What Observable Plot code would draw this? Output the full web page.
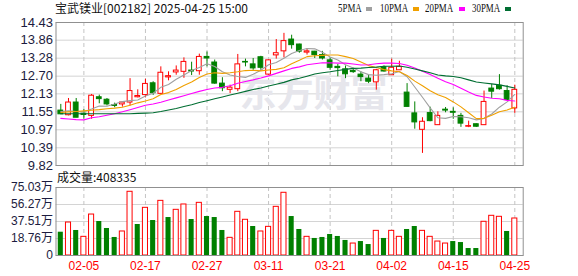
<!DOCTYPE html>
<html><head><meta charset="utf-8">
<script src="https://cdn.jsdelivr.net/npm/d3@7"></script>
<script src="https://cdn.jsdelivr.net/npm/@observablehq/plot@0.6"></script>
<style>
body{margin:0;background:#fff;}
#wrap{position:relative;width:578px;height:276px;overflow:hidden;background:#fff;}
.abs{position:absolute;white-space:nowrap;}
</style></head><body><div id="wrap"></div>
<script>
const title = "宝武镁业[002182] 2025-04-25 15:00";
const volLabel = "成交量:408335";
const watermark = "东方财富";
const dates = ["01-23","01-24","01-27","02-05","02-06","02-07","02-10","02-11","02-12","02-13",
"02-14","02-17","02-18","02-19","02-20","02-21","02-24","02-25","02-26","02-27",
"02-28","03-03","03-04","03-05","03-06","03-07","03-10","03-11","03-12","03-13",
"03-14","03-17","03-18","03-19","03-20","03-21","03-24","03-25","03-26","03-27",
"03-28","03-31","04-01","04-02","04-03","04-07","04-08","04-09","04-10","04-11",
"04-14","04-15","04-16","04-17","04-18","04-21","04-22","04-23","04-24","04-25"];
const open = [11.59,11.44,11.85,11.49,11.42,12.02,11.94,11.77,11.79,11.85,
12.02,12.09,12.47,12.13,12.66,12.82,12.84,12.88,12.86,13.32,
13.14,12.46,12.26,12.28,13.16,13.08,13.31,12.75,13.37,13.50,
13.88,13.72,13.46,13.49,13.38,13.21,13.00,12.92,12.87,12.75,
12.62,12.50,12.99,12.73,12.89,12.17,11.50,10.97,11.51,11.12,
11.62,11.55,11.42,11.07,11.15,11.12,12.30,12.39,12.22,11.66];
const high = [11.79,11.98,11.98,11.62,12.11,12.09,11.98,11.83,11.86,12.62,
12.26,12.60,12.52,13.00,12.84,13.03,13.29,13.15,13.41,13.48,
13.22,12.65,12.41,13.40,13.25,13.27,13.34,13.22,13.88,14.08,
14.02,13.73,13.59,13.50,13.50,13.29,13.08,13.03,12.95,12.84,
12.73,12.92,13.03,13.25,13.18,12.46,11.87,11.36,11.70,11.55,
11.69,11.68,11.50,11.25,11.16,12.22,12.43,12.75,12.39,12.41];
const low = [11.46,11.42,11.36,11.31,11.31,11.81,11.74,11.68,11.70,11.74,
12.00,12.00,12.08,12.12,12.55,12.73,12.63,12.72,12.73,13.00,
12.44,12.20,12.14,12.20,13.00,12.89,12.89,12.73,13.25,13.29,
13.57,13.44,13.38,13.27,13.22,12.89,12.68,12.62,12.79,12.52,
12.46,12.25,12.83,12.72,12.89,11.70,10.99,10.21,11.23,11.11,
11.52,11.31,11.05,11.04,11.05,11.11,11.98,12.25,11.93,11.50];
const close = [11.47,11.85,11.36,11.45,12.07,11.96,11.79,11.74,11.85,12.22,
12.06,12.45,12.15,12.81,12.70,12.88,13.16,12.85,13.32,13.27,
12.46,12.31,12.33,13.08,13.14,12.95,12.97,13.21,13.44,13.83,
13.70,13.49,13.50,13.38,13.27,12.97,12.96,12.76,12.83,12.67,
12.52,12.89,12.85,12.97,13.00,11.71,11.21,11.23,11.25,11.42,
11.59,11.52,11.17,11.09,11.07,11.87,12.20,12.28,11.93,12.26];
// volume in 万
const volume = [25.7,36.4,27.6,20.6,45.2,37.5,29.8,19.9,26.5,70.3,
34.2,52.6,38.6,60.3,41.9,50.4,56.3,39.7,58.1,43.0,
41.9,27.6,19.5,48.2,39.4,32.0,26.5,31.6,53.7,69.2,
43.0,28.7,20.6,18.8,19.9,23.2,21.0,16.6,13.2,15.4,
12.1,27.2,18.8,27.2,20.6,28.7,32.0,27.2,20.6,15.4,
13.2,15.4,14.3,7.7,7.7,37.2,43.8,42.7,26.5,40.83];
const ma5 = [11.56,11.58,11.56,11.55,11.64,11.74,11.73,11.80,11.88,11.91,
11.93,12.06,12.15,12.34,12.43,12.60,12.74,12.88,12.98,13.10,
13.01,12.84,12.74,12.69,12.66,12.76,12.89,13.07,13.14,13.28,
13.43,13.53,13.59,13.58,13.47,13.32,13.22,13.07,12.96,12.84,
12.75,12.73,12.75,12.78,12.85,12.68,12.35,12.02,11.68,11.36,
11.34,11.40,11.39,11.36,11.29,11.34,11.48,11.70,11.87,12.11];
const ma10 = [11.53,11.55,11.56,11.58,11.60,11.62,11.65,11.67,11.70,11.76,
11.84,11.90,11.97,12.11,12.17,12.27,12.40,12.51,12.66,12.77,
12.81,12.79,12.81,12.84,12.88,12.89,12.87,12.90,12.92,12.97,
13.10,13.21,13.33,13.36,13.37,13.38,13.38,13.33,13.27,13.16,
13.04,12.98,12.91,12.87,12.84,12.72,12.54,12.39,12.23,12.10,
12.01,11.87,11.71,11.52,11.33,11.34,11.44,11.55,11.61,11.70];
const ma20 = [11.34,11.32,11.30,11.29,11.36,11.39,11.44,11.49,11.55,11.62,
11.69,11.76,11.80,11.86,11.93,12.00,12.07,12.14,12.21,12.27,
12.32,12.34,12.39,12.47,12.53,12.58,12.64,12.71,12.79,12.87,
12.95,13.00,13.07,13.10,13.13,13.13,13.12,13.12,13.09,13.06,
13.07,13.10,13.12,13.12,13.11,13.05,12.96,12.86,12.75,12.63,
12.52,12.43,12.31,12.19,12.08,12.03,11.99,11.97,11.92,11.90];
const ma30 = [11.49,11.49,11.49,11.49,11.49,11.49,11.49,11.49,11.49,11.49,
11.50,11.51,11.52,11.56,11.61,11.66,11.72,11.78,11.85,11.91,
11.97,12.03,12.09,12.15,12.21,12.27,12.32,12.38,12.44,12.50,
12.58,12.63,12.70,12.77,12.81,12.84,12.88,12.92,12.95,12.96,
12.98,12.99,13.02,13.02,13.03,12.99,12.93,12.87,12.81,12.74,
12.71,12.69,12.65,12.58,12.51,12.48,12.45,12.42,12.37,12.32];
const priceTicks = [14.43,13.86,13.28,12.70,12.13,11.55,10.97,10.39,9.82];
const volTicks = [75.03,56.27,37.51,18.76,0];
const dateLabels = ["02-05","02-17","02-27","03-11","03-21","04-02","04-15","04-25"];
const maNames = ["5PMA","10PMA","20PMA","30PMA"];
const maColors = ["#a0a0a0","#f0a000","#ff00ff","#006e32"];

const RED = "#ff0000", GREEN = "#008000";
const rows = dates.map((d, i) => ({
  i, date: d, open: open[i], high: high[i], low: low[i], close: close[i], vol: volume[i],
  ma0: ma5[i], ma1: ma10[i], ma2: ma20[i], ma3: ma30[i],
  up: close[i] >= open[i],
  vup: i > 0 && close[i] >= close[i - 1]
}));
const labelIdx = dateLabels.map(l => dates.indexOf(l));
const half = 0.31;
const xScale = {domain: [-0.624, 60.09], axis: null};
const AX = "Liberation Sans, Arial, sans-serif";

const wrap = document.getElementById("wrap");

const price = Plot.plot({
  width: 578, height: 170,
  marginLeft: 55.5, marginRight: 55.3, marginTop: 22, marginBottom: 5,
  style: {fontFamily: AX, background: "transparent", overflow: "visible"},
  x: xScale,
  y: {domain: [9.82, 14.43], label: null, axis: null},
  marks: [
    Plot.gridY(priceTicks, {stroke: "#d4d4d4", strokeOpacity: 1}),
    Plot.ruleX(labelIdx, {stroke: "#c4c4c4", strokeOpacity: 1, strokeDasharray: "4,3"}),
    Plot.text([watermark], {frameAnchor: "middle", dx: 24, dy: 1, fontSize: 37, fontWeight: "bold",
      fill: "#e6e6ec", fontFamily: "Noto Sans CJK SC"}),
    Plot.axisY(priceTicks, {tickSize: 0, tickPadding: 3, tickFormat: d => d.toFixed(2),
      fontSize: 13, fill: "#1c1c40", label: null}),
    Plot.ruleX(rows.filter(d => d.up), {x: "i", y1: "low", y2: "high", stroke: RED}),
    Plot.ruleX(rows.filter(d => !d.up), {x: "i", y1: "low", y2: "high", stroke: GREEN}),
    Plot.rect(rows.filter(d => d.up), {x1: d => d.i - half, x2: d => d.i + half, y1: "open", y2: "close",
      fill: "white", stroke: RED}),
    Plot.rect(rows.filter(d => !d.up), {x1: d => d.i - half, x2: d => d.i + half, y1: "open", y2: "close",
      fill: GREEN, stroke: GREEN}),
    ...maColors.map((c, j) => Plot.line(rows, {x: "i", y: "ma" + j, stroke: c, strokeWidth: 1.1})),
    Plot.frame({stroke: "#909090"})
  ]
});
price.style.position = "absolute"; price.style.left = "0px"; price.style.top = "0px";
wrap.appendChild(price);

const vol = Plot.plot({
  width: 578, height: 106,
  marginLeft: 55.5, marginRight: 55.3, marginTop: 17, marginBottom: 21,
  style: {fontFamily: AX, background: "transparent", overflow: "visible"},
  x: xScale,
  y: {domain: [0, 75.03], label: null, axis: null},
  marks: [
    Plot.gridY(volTicks, {stroke: "#d4d4d4", strokeOpacity: 1}),
    Plot.ruleX(labelIdx, {stroke: "#c4c4c4", strokeOpacity: 1, strokeDasharray: "4,3"}),
    Plot.axisY(volTicks, {tickSize: 0, tickPadding: 3, tickFormat: d => d === 0 ? "0" : d.toFixed(2) + "万",
      fontSize: 12, fill: "#1c1c40", label: null, fontFamily: "Liberation Sans, Noto Sans CJK SC"}),
    Plot.axisX(labelIdx, {tickSize: 0, tickPadding: 6, tickFormat: i => dates[i], fill: RED,
      fontSize: 12, label: null}),
    Plot.rectY(rows.filter(d => d.vup), {x1: d => d.i - 0.33, x2: d => d.i + 0.33, y: "vol",
      fill: "white", stroke: RED}),
    Plot.rectY(rows.filter(d => !d.vup), {x1: d => d.i - 0.33, x2: d => d.i + 0.33, y: "vol",
      fill: GREEN}),
    Plot.frame({stroke: "#909090"})
  ]
});
vol.style.position = "absolute"; vol.style.left = "0px"; vol.style.top = "170px";
wrap.appendChild(vol);

function addText(txt, left, top, css) {
  const el = document.createElement("div");
  el.className = "abs";
  el.textContent = txt;
  el.style.left = left + "px"; el.style.top = top + "px";
  Object.assign(el.style, css);
  wrap.appendChild(el);
  return el;
}
addText(title, 55, -1, {fontFamily: "Noto Sans CJK SC", fontSize: "12px", color: "#111", lineHeight: "17px"});
addText(volLabel, 57, 168, {fontFamily: "Noto Sans CJK SC", fontSize: "12px", color: "#111", lineHeight: "17px"});
const legTextX = [338, 380, 425, 472];
const legBoxX = [366, 413, 459, 505];
maNames.forEach((n, j) => {
  addText(n, legTextX[j], 0, {fontFamily: "Liberation Serif, serif", fontSize: "12px", color: "#111",
    lineHeight: "17px", transform: "scaleX(0.74)", transformOrigin: "0 0"});
  const b = document.createElement("div");
  b.className = "abs";
  Object.assign(b.style, {left: legBoxX[j] + "px", top: "7px", width: "6px", height: "4px", background: maColors[j]});
  wrap.appendChild(b);
});
</script>
</body></html>
